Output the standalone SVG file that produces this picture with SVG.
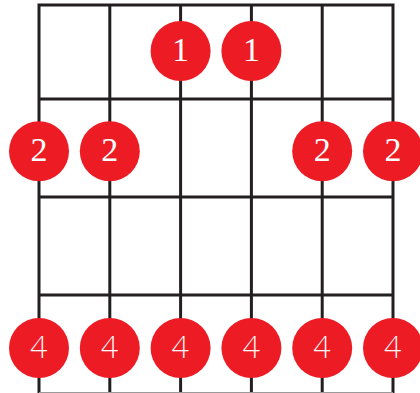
<svg xmlns="http://www.w3.org/2000/svg" width="420" height="393" viewBox="0 0 420 393">
<style>
.g{stroke:#231f20;stroke-width:3;fill:none;stroke-linecap:butt}
.dot{fill:#ed1c24}
.s{font-family:"Liberation Serif","Times New Roman","DejaVu Serif",serif;font-size:34px;fill:#fff;text-anchor:middle}
.n{font-family:Lato,"Liberation Sans",Arial,sans-serif;font-weight:300;font-size:31px;fill:#fff;text-anchor:middle}
</style>
<rect width="420" height="393" fill="#fff"/>
<g id="connectors">
<g class="g">
<path d="M39 393V5H393V393"/>
<path d="M109.8 5V393M180.6 5V393M251.4 5V393M322.2 5V393"/>
<path d="M39 99H393M39 197H393M39 295H393"/>
</g>
<path d="M39 392.5H393" stroke="#9a9a9a" stroke-width="1.2"/>
</g>
<g id="n1a"><circle class="dot" cx="180.6" cy="51" r="30"/><text class="s" x="180.6" y="60.5">1</text></g>
<g id="n1b"><circle class="dot" cx="251.4" cy="51" r="30"/><text class="s" x="251.4" y="60.5">1</text></g>
<g id="n2a"><circle class="dot" cx="39" cy="151.3" r="30"/><text class="s" x="39" y="160.8">2</text></g>
<g id="n2b"><circle class="dot" cx="109.8" cy="151.3" r="30"/><text class="s" x="109.8" y="160.8">2</text></g>
<g id="n2c"><circle class="dot" cx="322.2" cy="151.3" r="30"/><text class="s" x="322.2" y="160.8">2</text></g>
<g id="n2d"><circle class="dot" cx="393" cy="151.3" r="30"/><text class="s" x="393" y="160.8">2</text></g>
<g id="n4a"><circle class="dot" cx="39" cy="348" r="30"/><text class="n" x="39" y="357.5">4</text></g>
<g id="n4b"><circle class="dot" cx="109.8" cy="348" r="30"/><text class="n" x="109.8" y="357.5">4</text></g>
<g id="n4c"><circle class="dot" cx="180.6" cy="348" r="30"/><text class="n" x="180.6" y="357.5">4</text></g>
<g id="n4d"><circle class="dot" cx="251.4" cy="348" r="30"/><text class="n" x="251.4" y="357.5">4</text></g>
<g id="n4e"><circle class="dot" cx="322.2" cy="348" r="30"/><text class="n" x="322.2" y="357.5">4</text></g>
<g id="n4f"><circle class="dot" cx="393" cy="348" r="30"/><text class="n" x="393" y="357.5">4</text></g>
</svg>
